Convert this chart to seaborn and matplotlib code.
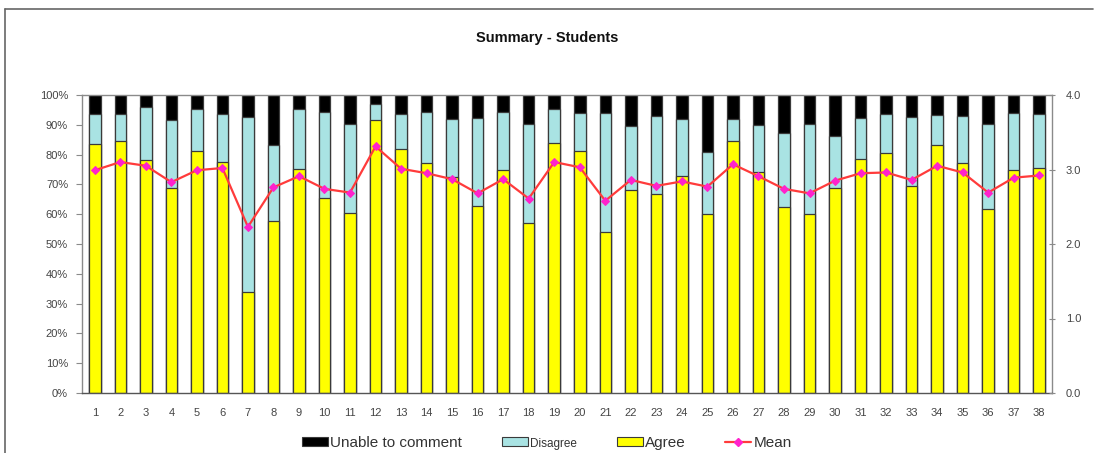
import numpy as np
import pandas as pd
import matplotlib
matplotlib.use("Agg")
import matplotlib.pyplot as plt
import seaborn as sns
from matplotlib.patches import Patch
from matplotlib.lines import Line2D
from matplotlib.ticker import PercentFormatter, FormatStrFormatter, MultipleLocator

# Survey items (question numbers)
questions = [str(i) for i in range(1, 39)]

# Share of responses per question, in percent
agree = [83.6, 84.6, 78.2, 68.8, 81.2, 77.4, 33.9, 57.7, 75.3, 65.6,
         60.4, 91.7, 81.8, 77.1, 72.6, 62.9, 74.9, 57.0, 83.8, 81.2,
         54.1, 68.0, 66.8, 72.7, 59.9, 84.4, 74.3, 62.3, 60.2, 68.9,
         78.5, 80.4, 69.6, 83.1, 77.1, 61.8, 74.9, 75.4]
disagree = [10.0, 9.0, 17.7, 22.8, 14.1, 16.1, 58.6, 25.5, 20.0, 28.7,
            29.8, 5.2, 11.9, 17.3, 19.4, 29.5, 19.4, 33.3, 11.5, 12.7,
            39.9, 21.5, 26.3, 19.3, 21.0, 7.4, 15.5, 24.9, 30.0, 17.4,
            13.8, 13.2, 22.9, 10.3, 15.9, 28.6, 19.1, 18.2]
unable = [6.4, 6.4, 4.1, 8.4, 4.7, 6.5, 7.5, 16.8, 4.7, 5.7,
          9.8, 3.1, 6.3, 5.6, 8.0, 7.6, 5.7, 9.7, 4.7, 6.1,
          6.0, 10.5, 6.9, 8.0, 19.1, 8.2, 10.2, 12.8, 9.8, 13.7,
          7.7, 6.4, 7.5, 6.6, 7.0, 9.6, 6.0, 6.4]

# Mean rating per question (right axis, 0-4 scale)
mean_score = [2.99, 3.10, 3.05, 2.83, 2.99, 3.02, 2.23, 2.76, 2.91, 2.74,
              2.69, 3.31, 3.01, 2.95, 2.87, 2.68, 2.87, 2.61, 3.10, 3.03,
              2.58, 2.86, 2.78, 2.84, 2.77, 3.07, 2.91, 2.74, 2.68, 2.85,
              2.95, 2.96, 2.86, 3.05, 2.96, 2.69, 2.89, 2.92]

legend_labels = ["Unable to comment", "Disagree", "Agree", "Mean"]

C_UNABLE = "#000000"
C_DISAGREE = "#A9E3E3"
C_AGREE = "#FFFF00"
C_MEAN = "#FF3B3B"
C_MARK = "#FF22CC"
EDGE = "#3A3A3A"
GRID_GREY = "#8A8A8A"
TXT = "#444444"

sns.set_style("white")
plt.rcParams["font.family"] = ["Liberation Sans", "DejaVu Sans"]

df = pd.DataFrame({"question": questions,
                   "agree": agree, "disagree": disagree, "unable": unable,
                   "mean": mean_score})
df["mid"] = df["agree"] + df["disagree"]
df["total"] = df["mid"] + df["unable"]

fig = plt.figure(figsize=(11.01, 4.53), dpi=100)
ax = fig.add_axes([82 / 1101, 1 - 393 / 453, (1052 - 82) / 1101, (393 - 95) / 453])

bar_kw = dict(x="question", order=questions, width=0.45, saturation=1,
              edgecolor=EDGE, linewidth=0.9, ax=ax)
# Stacked columns: full height first, then overlay the lower segments
sns.barplot(data=df, y="total", color=C_UNABLE, **bar_kw)
sns.barplot(data=df, y="mid", color=C_DISAGREE, **bar_kw)
sns.barplot(data=df, y="agree", color=C_AGREE, **bar_kw)

n = len(questions)
ax.set_ylim(0, 100)
ax.yaxis.set_major_locator(MultipleLocator(10))
ax.yaxis.set_major_formatter(PercentFormatter(decimals=0))
ax.set_xlabel("")
ax.set_ylabel("")
ax.set_xticks(np.arange(-0.5, n, 1.0), minor=True)
ax.tick_params(axis="x", which="major", length=0, pad=11, labelsize=8, labelcolor=TXT)
ax.tick_params(axis="x", which="minor", length=3, width=0.8, color=GRID_GREY, direction="inout")
ax.tick_params(axis="y", which="major", length=4, width=0.8, color=GRID_GREY, direction="out",
               pad=6, labelsize=8, labelcolor=TXT, left=True)
for side in ["left", "right", "top", "bottom"]:
    ax.spines[side].set_visible(True)
    ax.spines[side].set_color(GRID_GREY)
    ax.spines[side].set_linewidth(1.0)
ax.spines["bottom"].set_color("#555555")

# Mean score on a secondary axis
ax2 = ax.twinx()
sns.lineplot(x=np.arange(n), y=mean_score, ax=ax2, color=C_MEAN, linewidth=1.6,
             marker="D", markersize=4.5, markerfacecolor=C_MARK, markeredgecolor=C_MARK,
             legend=False)
ax2.set_ylim(0, 4)
ax2.yaxis.set_major_locator(MultipleLocator(1.0))
ax2.yaxis.set_major_formatter(FormatStrFormatter("%.1f"))
ax2.set_ylabel("")
ax2.tick_params(axis="y", length=4, width=0.8, color=GRID_GREY, direction="inout",
                pad=8, labelsize=8, labelcolor=TXT, right=True)
for side in ["left", "right", "top", "bottom"]:
    ax2.spines[side].set_visible(False)
ax.set_xlim(-0.5, n - 0.5)

fig.text(547 / 1101, 1 - 38 / 453, "Summary - Students", ha="center", va="center",
         fontsize=10.5, fontweight="bold", color="#111111")

handles = [
    Patch(facecolor=C_UNABLE, edgecolor=EDGE, linewidth=0.8),
    Patch(facecolor=C_DISAGREE, edgecolor=EDGE, linewidth=0.8),
    Patch(facecolor=C_AGREE, edgecolor=EDGE, linewidth=0.8),
    Line2D([], [], color=C_MEAN, linewidth=1.6, marker="D", markersize=4.5,
           markerfacecolor=C_MARK, markeredgecolor=C_MARK),
]
leg = fig.legend(handles, legend_labels, loc="center", ncol=4,
                 bbox_to_anchor=(547 / 1101, 1 - 443 / 453), frameon=False,
                 fontsize=11, handlelength=1.7, handleheight=0.6, handletextpad=0.15,
                 columnspacing=2.6, borderpad=0.0)
for t in leg.get_texts():
    t.set_color("#333333")
leg.get_texts()[1].set_fontsize(8.5)

# Outer frame edges of the chart area
fig.add_artist(Line2D([5 / 1101, 1093 / 1101], [1 - 9 / 453, 1 - 9 / 453],
                      transform=fig.transFigure, color="#666666", linewidth=1.2))
fig.add_artist(Line2D([5 / 1101, 5 / 1101], [1 - 9 / 453, 0],
                      transform=fig.transFigure, color="#666666", linewidth=1.2))

fig.savefig("out.png", dpi=100)
